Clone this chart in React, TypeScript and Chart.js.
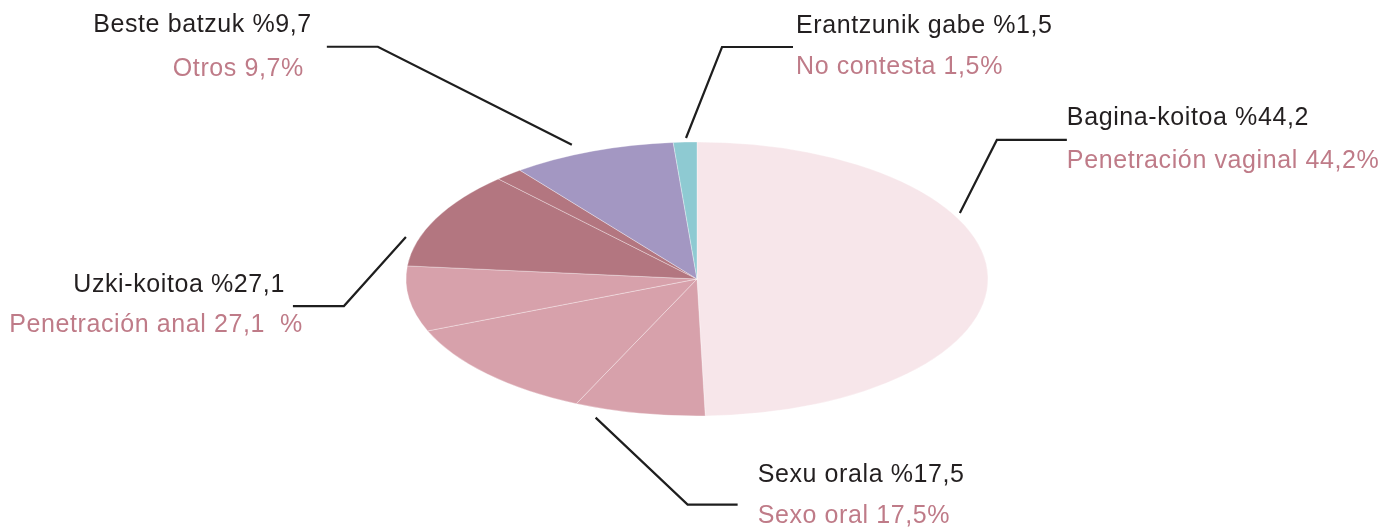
import React, { useEffect, useRef } from "react";
import { Chart, registerables } from "chart.js";

Chart.register(...registerables);

// ---- Data ----
// Legend categories (Basque / Spanish) and their reported percentages
const categoriesEu = ["Bagina-koitoa", "Sexu orala", "Uzki-koitoa", "Beste batzuk", "Erantzunik gabe"];
const labelsEu = ["Bagina-koitoa %44,2", "Sexu orala %17,5", "Uzki-koitoa %27,1", "Beste batzuk %9,7", "Erantzunik gabe %1,5"];
const labelsEs = ["Penetración vaginal 44,2%", "Sexo oral 17,5%", "Penetración anal 27,1  %", "Otros 9,7%", "No contesta 1,5%"];

// Slices as drawn in the picture (clockwise from 12 o'clock), and which category each belongs to
const sliceValues = [49.5, 7.25, 12.0, 7.7, 11.5, 1.55, 9.1, 1.3];
const sliceCategory = [0, 1, 1, 1, 2, 2, 3, 4];
const categoryColors = ["#f7e6ea", "#d7a1ab", "#b37680", "#a397c2", "#8ecad2"];

// ---- Layout (label placement, not data) ----
const RX = 291;
const RY = 137;
type LabelLayout = {
  angle: number; k: number; ex: number; ey: number; h: number;
  align: "left" | "right"; x1: number; x2: number; y1: number; y2: number;
};
const labelLayout: LabelLayout[] = [
  { angle: 61.9, k: 1.024, ex: 37, ey: -73, h: 70, align: "left", x1: 0, x2: 0, y1: -15, y2: 28 },
  { angle: 199, k: 1.07, ex: 92, ey: 87, h: 50, align: "left", x1: 20, x2: 20, y1: -23, y2: 18 },
  { angle: 287, k: 1.046, ex: -62, ey: 69, h: -51, align: "right", x1: -8, x2: 10, y1: -14, y2: 26 },
  { angle: 336.3, k: 1.07, ex: -194, ey: -98, h: -51, align: "right", x1: -15, x2: -23, y1: -15, y2: 29 },
  { angle: 357.9, k: 1.03, ex: 36, ey: -91, h: 71, align: "left", x1: 3, x2: 3, y1: -14, y2: 27 },
];

const ellipsePlugin = {
  id: "ellipsePie",
  beforeDatasetsDraw(chart: any) {
    const arc = chart.getDatasetMeta(0).data[0];
    if (!arc) return;
    const ctx = chart.ctx;
    ctx.save();
    ctx.translate(arc.x, arc.y);
    ctx.scale(RX / arc.outerRadius, RY / arc.outerRadius);
    ctx.translate(-arc.x, -arc.y);
  },
  afterDatasetsDraw(chart: any) {
    const ctx = chart.ctx;
    ctx.restore();
    const arc = chart.getDatasetMeta(0).data[0];
    if (!arc) return;
    const cx = arc.x;
    const cy = arc.y;
    ctx.save();
    ctx.font = '25px "Liberation Sans", Arial, sans-serif';
    try { (ctx as any).letterSpacing = "0.6px"; } catch (e) {}
    ctx.textBaseline = "alphabetic";
    labelLayout.forEach((L, i) => {
      const t = (L.angle * Math.PI) / 180;
      const ax = cx + RX * L.k * Math.sin(t);
      const ay = cy - RY * L.k * Math.cos(t);
      const bx = ax + L.ex;
      const by = ay + L.ey;
      const dx = bx + L.h;
      ctx.beginPath();
      ctx.moveTo(ax, ay);
      ctx.lineTo(bx, by);
      ctx.lineTo(dx, by);
      ctx.strokeStyle = "#1e1e1e";
      ctx.lineWidth = 2.2;
      ctx.lineJoin = "miter";
      ctx.stroke();
      ctx.textAlign = L.align;
      ctx.fillStyle = "#231f20";
      ctx.fillText(labelsEu[i], dx + L.x1, by + L.y1);
      ctx.fillStyle = "#bf7b88";
      ctx.fillText(labelsEs[i], dx + L.x2, by + L.y2);
    });
    ctx.restore();
  },
};

export default function App() {
  const ref = useRef<HTMLCanvasElement | null>(null);
  useEffect(() => {
    if (!ref.current) return;
    const chart = new Chart(ref.current, {
      type: "pie",
      data: {
        labels: sliceCategory.map((c) => categoriesEu[c]),
        datasets: [
          {
            data: sliceValues,
            backgroundColor: sliceCategory.map((c) => categoryColors[c]),
            borderColor: "rgba(255,255,255,0.55)",
            borderWidth: 0.7,
          },
        ],
      },
      options: {
        responsive: false,
        animation: false,
        events: [],
        layout: { padding: { left: 8, right: 0, top: 29, bottom: 0 } },
        plugins: { legend: { display: false }, tooltip: { enabled: false } },
      },
      plugins: [ellipsePlugin],
    });
    return () => chart.destroy();
  }, []);
  return (
    <div style={{ position: "fixed", left: 0, top: 0, width: 1386, height: 529, background: "#fff" }}>
      <canvas ref={ref} width={1386} height={529} />
    </div>
  );
}
